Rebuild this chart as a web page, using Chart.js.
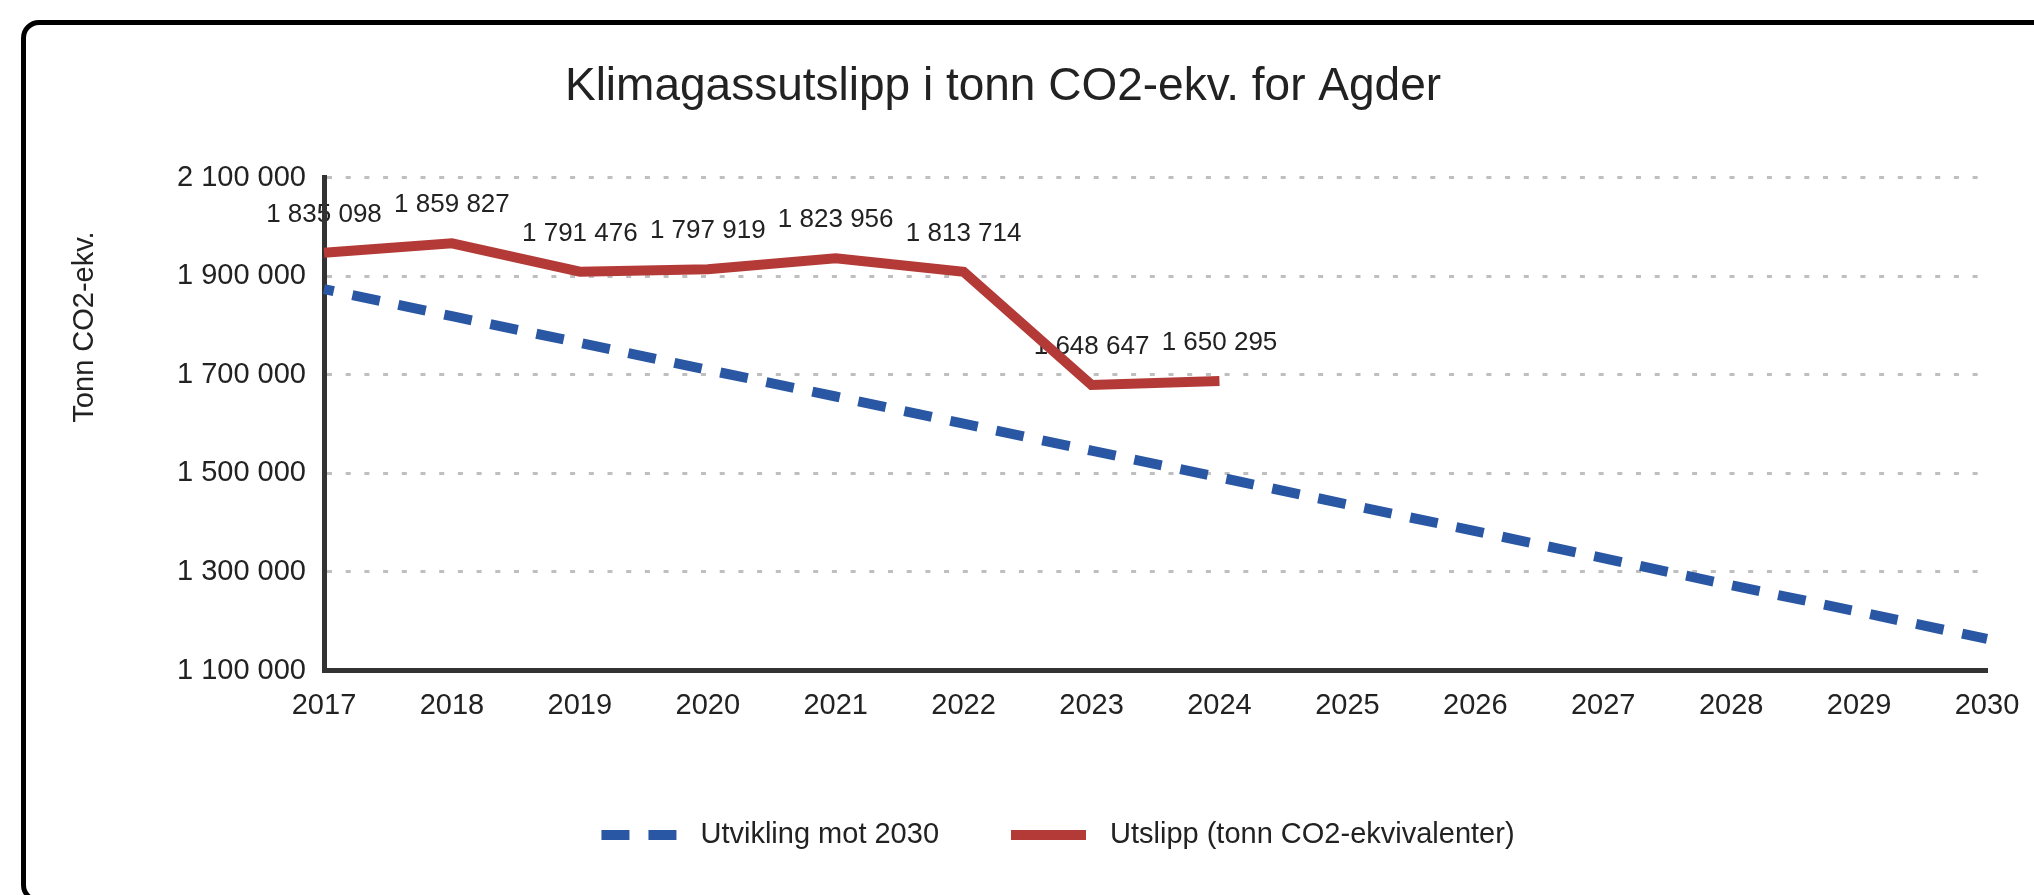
<!DOCTYPE html>
<html>
<head>
<meta charset="utf-8">
<script src="https://cdn.jsdelivr.net/npm/chart.js@4"></script>
<style>
  html, body { margin: 0; padding: 0; background: #fff; overflow: hidden; }
  #frame { position: absolute; left: 21px; top: 20px; width: 2100px; height: 883px;
           border: 5px solid #000; border-radius: 18px; box-sizing: border-box; }
  #wrap { position: absolute; left: 0; top: 0; width: 2034px; height: 895px; }
</style>
</head>
<body>
<div id="frame"></div>
<div id="wrap"><canvas id="c" width="2034" height="895"></canvas></div>
<script>
// ---- data ----
const years = ['2017','2018','2019','2020','2021','2022','2023','2024','2025','2026','2027','2028','2029','2030'];
const utvikling = [1874000, 1819000, 1765000, 1710000, 1656000, 1601000, 1546000, 1492000, 1437000, 1383000, 1328000, 1273000, 1219000, 1164000];
const utslipp = [1947900, 1966900, 1909300, 1914200, 1936500, 1909000, 1679500, 1687600];
const utslippLabels = [1835098, 1859827, 1791476, 1797919, 1823956, 1813714, 1648647, 1650295];
const yTicks = [1100000, 1300000, 1500000, 1700000, 1900000, 2100000];
const seriesNames = ['Utvikling mot 2030', 'Utslipp (tonn CO2-ekvivalenter)'];
const chartTitle = 'Klimagassutslipp i tonn CO2-ekv. for Agder';
const yTitle = 'Tonn CO2-ekv.';

const FONT = '"Liberation Sans", Arial, Helvetica, sans-serif';
const fmt = v => String(v).replace(/\B(?=(\d{3})+(?!\d))/g, ' ');

Chart.defaults.font.family = FONT;
Chart.defaults.color = '#222';

const pointLabels = {
  id: 'pointLabels',
  beforeDraw(chart) {
    const meta = chart.getDatasetMeta(1);
    const ctx = chart.ctx;
    ctx.save();
    ctx.font = '26px ' + FONT;
    ctx.fillStyle = '#222';
    ctx.textAlign = 'center';
    ctx.textBaseline = 'middle';
    meta.data.forEach((pt, i) => {
      ctx.fillText(fmt(utslippLabels[i]), pt.x, pt.y - 38);
    });
    ctx.restore();
  }
};

const axisTitle = {
  id: 'axisTitle',
  afterDraw(chart) {
    const ctx = chart.ctx;
    ctx.save();
    ctx.translate(85, 327);
    ctx.rotate(-Math.PI / 2);
    ctx.font = '29px ' + FONT;
    ctx.fillStyle = '#222';
    ctx.textAlign = 'center';
    ctx.textBaseline = 'middle';
    ctx.fillText(yTitle, 0, 0);
    ctx.restore();
  }
};

const customLegend = {
  id: 'customLegend',
  afterDraw(chart) {
    const ctx = chart.ctx;
    const lineLen = 75, gap = 24, itemGap = 72, cx = 1058, cy = 835;
    ctx.save();
    ctx.font = '29px ' + FONT;
    const items = chart.data.datasets.map(ds => ({ ds, w: ctx.measureText(ds.label).width }));
    const total = items.reduce((s, it) => s + lineLen + gap + it.w, 0) + itemGap * (items.length - 1);
    let x = cx - total / 2;
    items.forEach(it => {
      ctx.beginPath();
      ctx.strokeStyle = it.ds.borderColor;
      ctx.lineWidth = it.ds.borderWidth;
      ctx.lineCap = 'butt';
      ctx.setLineDash(it.ds.borderDash || []);
      ctx.moveTo(x, cy);
      ctx.lineTo(x + lineLen, cy);
      ctx.stroke();
      ctx.setLineDash([]);
      ctx.fillStyle = '#222';
      ctx.textAlign = 'left';
      ctx.textBaseline = 'middle';
      ctx.fillText(it.ds.label, x + lineLen + gap, cy);
      x += lineLen + gap + it.w + itemGap;
    });
    ctx.restore();
  }
};

new Chart(document.getElementById('c'), {
  type: 'line',
  data: {
    labels: years,
    datasets: [
      {
        label: seriesNames[0],
        data: utvikling,
        borderColor: '#2a57a4',
        backgroundColor: '#2a57a4',
        borderWidth: 10,
        borderDash: [28, 19],
        borderDashOffset: 18,
        pointRadius: 0,
        tension: 0,
        fill: false
      },
      {
        label: seriesNames[1],
        data: utslipp,
        borderColor: '#b43a37',
        backgroundColor: '#b43a37',
        borderWidth: 10,
        pointRadius: 0,
        tension: 0,
        fill: false
      }
    ]
  },
  options: {
    responsive: false,
    animation: false,
    devicePixelRatio: 1,
    layout: { padding: { left: 19, right: 47, top: 0, bottom: 0 } },
    plugins: {
      legend: { display: false },
      tooltip: { enabled: false },
      title: {
        display: true,
        text: chartTitle,
        color: '#222',
        font: { size: 46, weight: 'normal', family: FONT },
        padding: { top: 60, bottom: 62.5 }
      }
    },
    scales: {
      x: {
        type: 'category',
        offset: false,
        grid: { display: false, drawTicks: false },
        border: { display: true, color: '#333', width: 5 },
        ticks: { font: { size: 29 }, color: '#222', padding: 18, maxRotation: 0, autoSkip: false },
        afterFit: s => { s.paddingLeft = 0; s.paddingRight = 0; s.height = 895 - 670.5; }
      },
      y: {
        min: yTicks[0],
        max: yTicks[yTicks.length - 1],
        afterBuildTicks: s => { s.ticks = yTicks.map(v => ({ value: v })); },
        grid: {
          drawTicks: false,
          lineWidth: 3,
          color: c => (c.tick && c.tick.value === yTicks[0]) ? 'rgba(0,0,0,0)' : '#bfbfbf'
        },
        border: { display: true, color: '#333', width: 5, dash: [5, 13.7] },
        ticks: { font: { size: 29 }, color: '#222', padding: 18, callback: v => fmt(v) },
        afterFit: s => { s.width = 324 - 19; }
      }
    }
  },
  plugins: [pointLabels, axisTitle, customLegend]
});
</script>
</body>
</html>
